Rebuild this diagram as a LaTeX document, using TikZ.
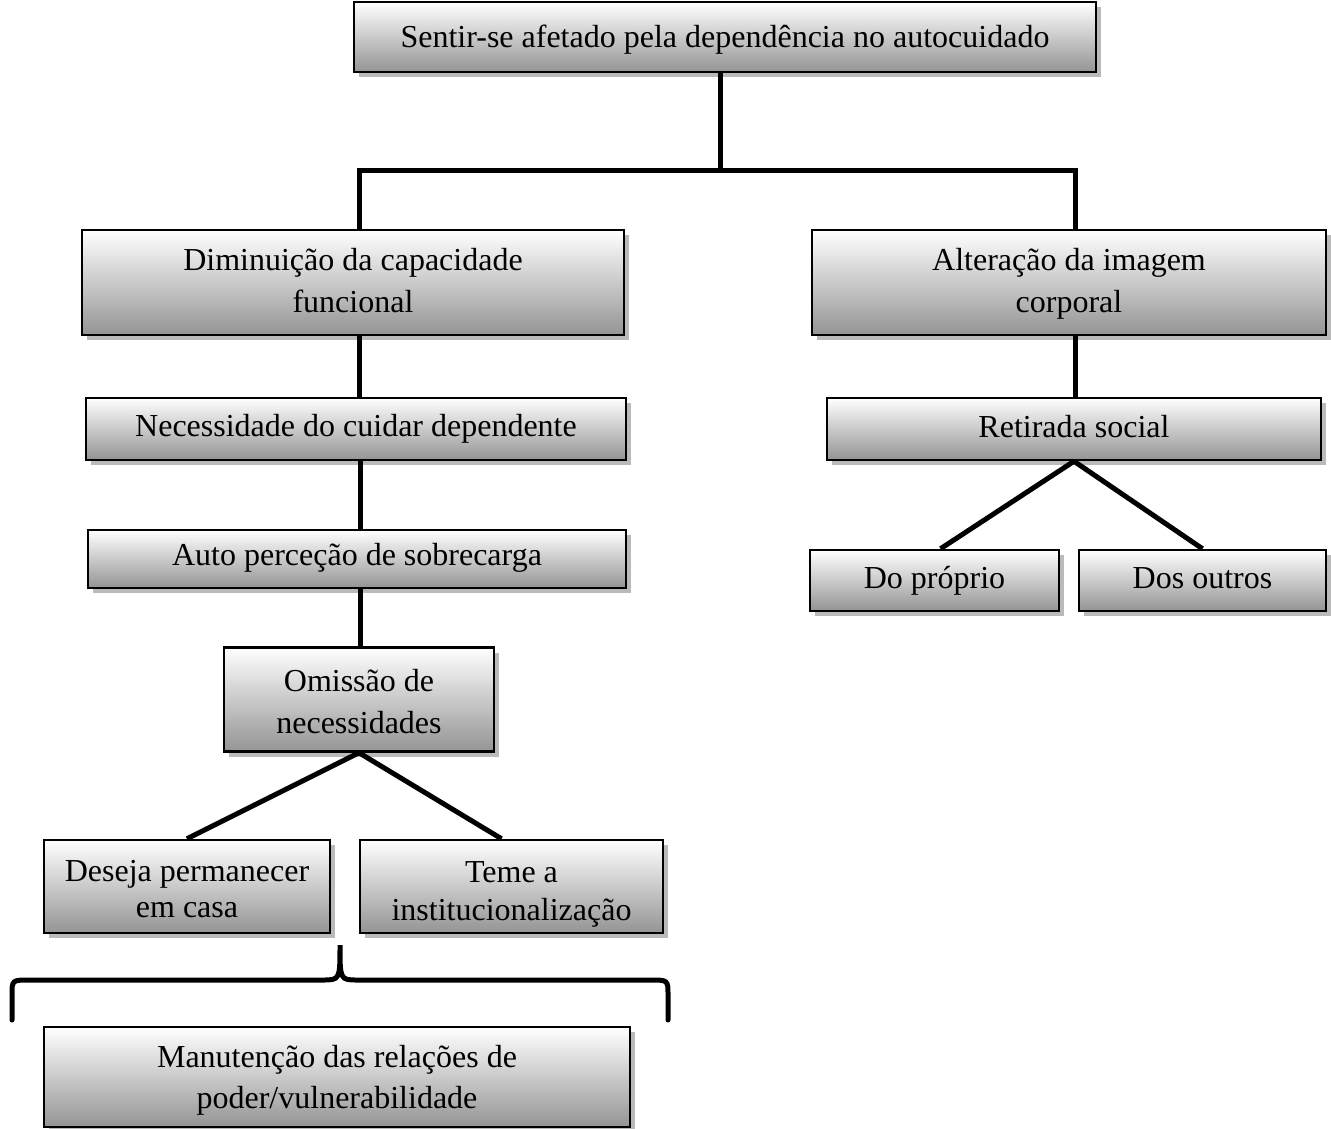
\documentclass[tikz,border=0pt]{standalone}
\usepackage{fontspec}
\setmainfont{Liberation Serif}
\usetikzlibrary{shadows}
\tikzset{
	caixa/.style={draw=black, line width=2.5pt, inner sep=0pt, align=center,
		top color=white, bottom color=black!42,
		drop shadow={shadow xshift=5pt, shadow yshift=-5pt, fill=black!45, opacity=0.6},
		font=\fontsize{32}{42}\selectfont, text height=#1, text depth=5pt},
	caixa/.default=20pt,
	junto/.style={font=\fontsize{32}{#1}\selectfont},
	ligacao/.style={line width=5pt}
}
\begin{document}
\begin{tikzpicture}[x=1pt, y=-1pt]
		\useasboundingbox (0,0) rectangle (1331,1128);
		% ramo esquerdo
		\node[caixa=25pt, minimum width=742, minimum height=70] (topo) at (725,37) {Sentir-se afetado pela dependência no autocuidado};
		\node[caixa=64pt, minimum width=542, minimum height=105] (dimin) at (353,282.5) {Diminuição da capacidade\\funcional};
		\node[caixa, minimum width=540, minimum height=62] (neces) at (356,429) {Necessidade do cuidar dependente};
		\node[caixa=17pt, minimum width=538, minimum height=58] (sobre) at (357,559) {Auto perceção de sobrecarga};
		\node[caixa=72pt, minimum width=270, minimum height=104] (omiss) at (359,699.5) {Omissão de\\necessidades};
		\node[caixa=66pt, junto=36, minimum width=286, minimum height=93] (desej) at (187,886.5) {Deseja permanecer\\em casa};
		\node[caixa=72pt, junto=38, minimum width=303, minimum height=93] (teme) at (511.5,886.5) {Teme a\\institucionalização};
		\node[caixa=67pt, junto=41, minimum width=586, minimum height=100] (manut) at (337,1077) {Manutenção das relações de\\poder/vulnerabilidade};
		% ramo direito
		\node[caixa=64pt, minimum width=514, minimum height=105] (alter) at (1069,282.5) {Alteração da imagem\\corporal};
		\node[caixa=21pt, minimum width=494, minimum height=62] (retir) at (1074,429) {Retirada social};
		\node[caixa, minimum width=249, minimum height=61] (propr) at (934.5,580.5) {Do próprio};
		\node[caixa, minimum width=247, minimum height=61] (outro) at (1202.5,580.5) {Dos outros};

		\coordinate (centro) at (720,170);
		\draw[ligacao] (topo.south -| centro) -- (centro);
		\draw[ligacao] ([xshift=6pt]dimin.north) |- (centro) -| ([xshift=6pt]alter.north);
		\draw[ligacao] ([xshift=6pt]dimin.south) -- ([xshift=6pt]dimin.south |- neces.north);
		\draw[ligacao] ([xshift=4pt]neces.south) -- ([xshift=4pt]neces.south |- sobre.north);
		\draw[ligacao] ([xshift=3pt]sobre.south) -- ([xshift=3pt]sobre.south |- omiss.north);
		\draw[ligacao] (omiss.south) -- (desej.north);
		\draw[ligacao] (omiss.south) -- ([xshift=-10pt]teme.north);
		\draw[ligacao] ([xshift=6pt]alter.south) -- ([xshift=6pt]alter.south |- retir.north);
		\draw[ligacao] (retir.south) -- ([xshift=6pt]propr.north);
		\draw[ligacao] (retir.south) -- (outro.north);

		% chaveta
		\draw[ligacao, line cap=round] (12,1020) -- (12,995) .. controls (12,980) .. (30,980) -- (322,980)
			.. controls (340,980) .. (340,945) .. controls (340,980) .. (358,980) -- (650,980)
			.. controls (668,980) .. (668,995) -- (668,1020);
	\end{tikzpicture}
\end{document}
